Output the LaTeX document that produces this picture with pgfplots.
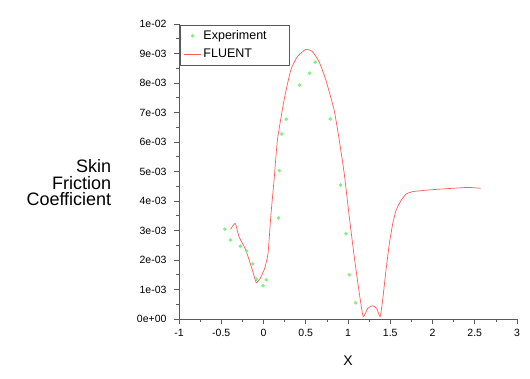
\documentclass[border=0pt]{standalone}
\usepackage{pgfplots}
\pgfplotsset{compat=1.18}
\usepackage{fontspec}
\setmainfont{Liberation Sans}
\definecolor{fl}{RGB}{255,90,90}
\definecolor{ex}{RGB}{130,240,130}
\definecolor{ax}{RGB}{90,90,90}
\begin{document}
\begin{tikzpicture}[x=1pt,y=1pt]
\useasboundingbox (0,0) rectangle (530,379);
\begin{axis}[
  at={(179pt,60pt)}, anchor=south west,
  scale only axis, width=338pt, height=295pt,
  xmin=-1, xmax=3, ymin=0, ymax=0.01,
  axis x line*=bottom, axis y line*=left,
  axis line style={ax, line width=0.8pt},
  every tick/.style={ax, line width=0.6pt},
  tick align=outside,
  major tick length=5pt, minor tick length=3pt,
  xtick={-1,-0.5,0,0.5,1,1.5,2,2.5,3},
  xticklabels={-1,-0.5,0,0.5,1,1.5,2,2.5,3},
  ytick={0,0.001,0.002,0.003,0.004,0.005,0.006,0.007,0.008,0.009,0.01},
  yticklabels={0e+00,1e-03,2e-03,3e-03,4e-03,5e-03,6e-03,7e-03,8e-03,9e-03,1e-02},
  minor x tick num=1, minor y tick num=1,
  scaled y ticks=false,
  tick label style={font=\fontsize{10.5}{12}\selectfont, text=black},
  yticklabel style={xshift=-4pt},
  xticklabel style={yshift=-2pt},
  xlabel={X},
  xlabel style={font=\fontsize{14}{15}\selectfont, at={(axis description cs:0.5,-0.142)}, anchor=center},
  ylabel={Skin\\Friction\\Coefficient},
  ylabel style={rotate=-90, align=right, font=\fontsize{18}{16.5}\selectfont, at={(axis description cs:-0.19,0.461)}, anchor=east},
  legend style={at={(axis description cs:0.003,0.997)}, anchor=north west, draw=ax, font=\fontsize{12.5}{14}\selectfont, inner sep=3.5pt, row sep=4pt, text width=80pt},
  legend cell align=left,
  clip=false,
]
\addplot[only marks, mark=*, mark size=1.6pt, ex] coordinates {
(-0.457,0.00305) (-0.39,0.00268) (-0.275,0.00247) (-0.20,0.00230) (-0.128,0.00187)
(-0.085,0.00135) (-0.006,0.00113) (0.034,0.00133) (0.177,0.00342) (0.188,0.00503)
(0.216,0.00627) (0.27,0.00677) (0.425,0.00793) (0.545,0.00833) (0.611,0.00871)
(0.79,0.00678) (0.913,0.00454) (0.976,0.00289) (1.015,0.00150) (1.09,0.00055)
};
\addlegendentry{Experiment}
\addplot[fl, line width=0.7pt, smooth, tension=0.3] coordinates {
(-0.39,0.00304) (-0.334,0.00324) (-0.29,0.00279) (-0.21,0.00234) (-0.132,0.00166)
(-0.085,0.00123) (-0.033,0.00141) (0.014,0.00172) (0.054,0.00223) (0.086,0.00347)
(0.125,0.00471) (0.165,0.00607) (0.243,0.00742) (0.323,0.00844) (0.40,0.00889)
(0.50,0.00914) (0.58,0.00906) (0.658,0.00872) (0.738,0.00810) (0.836,0.00708)
(0.896,0.00607) (0.955,0.00494) (1.015,0.00347) (1.074,0.00211) (1.134,0.00087)
(1.18,0.00008) (1.233,0.00036) (1.29,0.00045) (1.34,0.00036) (1.38,0.00008)
(1.41,0.00064) (1.45,0.00166) (1.49,0.00257) (1.53,0.00324) (1.57,0.00369)
(1.63,0.00403) (1.69,0.00424) (1.77,0.00432) (1.94,0.00437) (2.18,0.00442)
(2.42,0.00446) (2.57,0.00443)
};
\addlegendentry{FLUENT}
\end{axis}
\end{tikzpicture}
\end{document}
